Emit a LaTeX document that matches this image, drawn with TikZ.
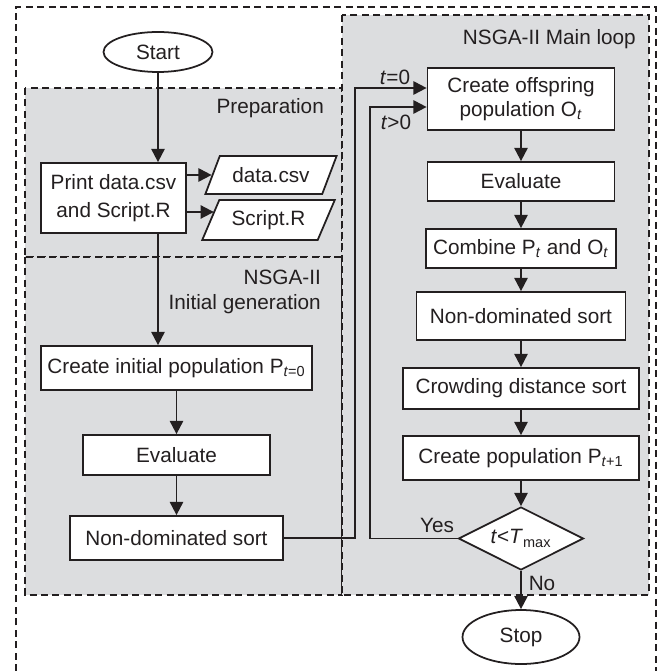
\documentclass[tikz,border=0pt]{standalone}
\usepackage{fontspec}
\setmainfont{Liberation Sans}
\usetikzlibrary{shapes.geometric,arrows.meta,calc}
\definecolor{bggray}{RGB}{220,221,223}
\definecolor{ink}{RGB}{35,31,32}

\begin{document}
\begin{tikzpicture}[x=0.02cm,y=-0.02cm,
font=\fontsize{11.8}{14}\selectfont,
every node/.style={text=ink},
frame/.style={draw=ink,line width=0.85pt,dash pattern=on 4pt off 2.5pt},
box/.style={draw=ink,fill=white,line width=1pt,inner sep=2pt},
io/.style={draw=ink,fill=white,line width=1pt,trapezium,trapezium left angle=62,trapezium right angle=118,trapezium stretches=true,inner sep=2pt},
term/.style={draw=ink,fill=white,line width=1pt,ellipse,inner sep=0pt},
decide/.style={draw=ink,fill=white,line width=1pt,diamond,aspect=2,inner sep=0pt},
arr/.style={draw=ink,line width=1.1pt,-{Triangle[length=7.5pt,width=7.5pt]}}]
\useasboundingbox (0,0) rectangle (662,671);
\draw[frame] (16,671) |- (656,7) -- (656,671);
\draw[frame,fill=bggray] (25,88) rectangle (342,257);
\draw[frame,fill=bggray] (25,257) rectangle (342,595);
\draw[frame,fill=bggray] (342,15) rectangle (649,595);

\node[anchor=east] (preplbl) at (330,108) {Preparation};
\node[anchor=east,align=right] (initlbl) at (327,292) {NSGA-II\\Initial generation};
\node[anchor=east] (mainlbl) at (642,39) {NSGA-II Main loop};

\node[term,minimum width=2.18cm,minimum height=0.8cm] (start) at (158,52) {Start};
\node[box,align=center,minimum width=2.9cm,minimum height=1.4cm] (print) at (113.5,198) {Print data.csv\\[2pt]and Script.R};
\node[io,minimum width=2.64cm,minimum height=0.76cm] (data) at (271,175) {data.csv};
\node[io,minimum width=2.66cm,minimum height=0.8cm] (script) at (268.5,220) {Script.R};
\node[box,minimum width=5.42cm,minimum height=0.88cm] (init) at (176.5,368) {Create initial population P\textsubscript{\textit{t}=0}};
\node[box,minimum width=3.74cm,minimum height=0.8cm] (eval1) at (176.5,455) {Evaluate};
\node[box,minimum width=4.26cm,minimum height=0.88cm] (nds1) at (176.5,538) {Non-dominated sort};

\node[box,align=center,minimum width=3.74cm,minimum height=1.24cm] (off) at (521,99) {Create offspring\\population O\textsubscript{\textit{t}}};
\node[box,minimum width=3.74cm,minimum height=0.78cm] (eval2) at (521,181.5) {Evaluate};
\node[box,minimum width=3.8cm,minimum height=0.78cm] (comb) at (521,248.5) {Combine P\textsubscript{\textit{t}} and O\textsubscript{\textit{t}}};
\node[box,minimum width=4.18cm,minimum height=0.96cm] (nds2) at (521,316) {Non-dominated sort};
\node[box,minimum width=4.72cm,minimum height=0.82cm] (crowd) at (521,388.5) {Crowding distance sort};
\node[box,minimum width=4.72cm,minimum height=0.88cm] (newpop) at (521,458) {Create population P\textsubscript{\textit{t}+1}};
\node[decide,minimum width=2.5cm,minimum height=1.26cm] (dec) at (521,538.5) {\textit{t}<\textit{T}\textsubscript{max}};
\node[term,minimum width=2.34cm,minimum height=1.08cm] (stop) at (521,637) {Stop};

\node (t0) at (395,77) {\textit{t}=0};
\node (t1) at (396,122) {\textit{t}>0};
\node (yes) at (437,525) {Yes};
\node (no) at (542,583) {No};

\draw[arr] (start) -- (start |- print.north);
\draw[arr] (print.east |- data) -- (data.west);
\draw[arr] ($(print.east)+(0,14)$) -- ($(script.west)+(4,-8)$);
\draw[arr] (start |- print.south) -- (start |- init.north);
\draw[arr] (init) -- (eval1);
\draw[arr] (eval1) -- (nds1);
\draw[arr] (nds1.east) -| (355,88) -- ($(off.west)+(0,-11)$);
\draw[arr] (off) -- (eval2);
\draw[arr] (eval2) -- (comb);
\draw[arr] (comb) -- (nds2);
\draw[arr] (nds2) -- (crowd);
\draw[arr] (crowd) -- (newpop);
\draw[arr] (newpop) -- (dec);
\draw[arr] (dec.west) -| (370,107) -- ($(off.west)+(0,8)$);
\draw[arr] (dec) -- (stop);
\end{tikzpicture}
\end{document}
